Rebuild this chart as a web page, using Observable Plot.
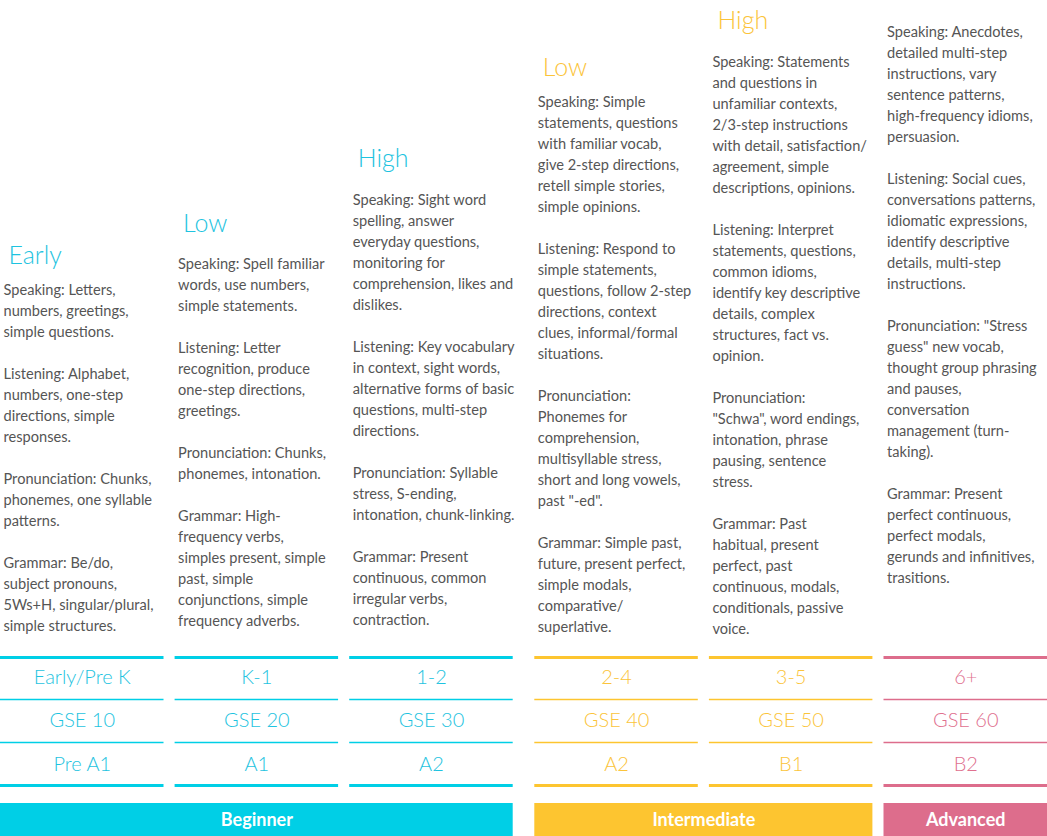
<!DOCTYPE html>
<html><head><meta charset="utf-8">
<script src="https://cdn.jsdelivr.net/npm/d3@7"></script>
<script src="https://cdn.jsdelivr.net/npm/@observablehq/plot@0.6"></script>
<style>body{margin:0;background:#fff}</style>
</head><body><div id="c"></div>
<script>
const levels = ["Early","Low","High","Low","High",""];
const groupOf = [0,0,0,1,1,2];
const groups = ["Beginner","Intermediate","Advanced"];
const grades = ["Early/Pre K","K-1","1-2","2-4","3-5","6+"];
const gse = ["GSE 10","GSE 20","GSE 30","GSE 40","GSE 50","GSE 60"];
const cefr = ["Pre A1","A1","A2","A2","B1","B2"];
const descriptions = [
"Speaking: Letters,\nnumbers, greetings,\nsimple questions.\n\nListening: Alphabet,\nnumbers, one-step\ndirections, simple\nresponses.\n\nPronunciation: Chunks,\nphonemes, one syllable\npatterns.\n\nGrammar: Be/do,\nsubject pronouns,\n5Ws+H, singular/plural,\nsimple structures.",
"Speaking: Spell familiar\nwords, use numbers,\nsimple statements.\n\nListening: Letter\nrecognition, produce\none-step directions,\ngreetings.\n\nPronunciation: Chunks,\nphonemes, intonation.\n\nGrammar: High-\nfrequency verbs,\nsimples present, simple\npast, simple\nconjunctions, simple\nfrequency adverbs.",
"Speaking: Sight word\nspelling, answer\neveryday questions,\nmonitoring for\ncomprehension, likes and\ndislikes.\n\nListening: Key vocabulary\nin context, sight words,\nalternative forms of basic\nquestions, multi-step\ndirections.\n\nPronunciation: Syllable\nstress, S-ending,\nintonation, chunk-linking.\n\nGrammar: Present\ncontinuous, common\nirregular verbs,\ncontraction.",
"Speaking: Simple\nstatements, questions\nwith familiar vocab,\ngive 2-step directions,\nretell simple stories,\nsimple opinions.\n\nListening: Respond to\nsimple statements,\nquestions, follow 2-step\ndirections, context\nclues, informal/formal\nsituations.\n\nPronunciation:\nPhonemes for\ncomprehension,\nmultisyllable stress,\nshort and long vowels,\npast \"-ed\".\n\nGrammar: Simple past,\nfuture, present perfect,\nsimple modals,\ncomparative/\nsuperlative.",
"Speaking: Statements\nand questions in\nunfamiliar contexts,\n2/3-step instructions\nwith detail, satisfaction/\nagreement, simple\ndescriptions, opinions.\n\nListening: Interpret\nstatements, questions,\ncommon idioms,\nidentify key descriptive\ndetails, complex\nstructures, fact vs.\nopinion.\n\nPronunciation:\n\"Schwa\", word endings,\nintonation, phrase\npausing, sentence\nstress.\n\nGrammar: Past\nhabitual, present\nperfect, past\ncontinuous, modals,\nconditionals, passive\nvoice.",
"Speaking: Anecdotes,\ndetailed multi-step\ninstructions, vary\nsentence patterns,\nhigh-frequency idioms,\npersuasion.\n\nListening: Social cues,\nconversations patterns,\nidiomatic expressions,\nidentify descriptive\ndetails, multi-step\ninstructions.\n\nPronunciation: \"Stress\nguess\" new vocab,\nthought group phrasing\nand pauses,\nconversation\nmanagement (turn-\ntaking).\n\nGrammar: Present\nperfect continuous,\nperfect modals,\ngerunds and infinitives,\ntrasitions."
];

// layout (not data)
const barColor = ["#00cfe6","#fdc530","#dd6d8c"];
const textColor = ["#1ec3e0","#fbc43a","#e0708f"];
const headColor = ["#1ec3e0","#1ec3e0","#1ec3e0","#fbc43a","#fbc43a",""];
const headY = [255,223,158,67,20,0];
const bodyY = [280,254,190,92,52,22];
const colW = 163.5;
const left = i => i*174.6 + (i>=3?10.5:0);
const cols = descriptions.map((d,i)=>({i, x1:left(i), x2:left(i)+colW, cx:left(i)+colW/2,
  g:groupOf[i], desc:d, level:levels[i], grade:grades[i], gse:gse[i], cefr:cefr[i]}));
const gbars = groups.map((g,k)=>{
  const m = cols.filter(c=>c.g===k);
  return {name:g, k, x1:m[0].x1, x2:m[m.length-1].x2};
});
const rules = [];
cols.forEach(c=>{
  [[657,3],[699,2],[742,2],[785,3]].forEach(([y,w])=>rules.push({...c,y,w}));
});
const font = "Lato, 'Open Sans', sans-serif";
const chart = Plot.plot({
  width:1047, height:836, margin:0,
  x:{domain:[0,1047], range:[0,1047], axis:null},
  y:{domain:[0,836], range:[0,836], axis:null},
  style:{fontFamily:font, background:"#fff"},
  marks:[
    Plot.text(cols.filter(c=>c.level), {x:c=>c.x1+8, y:c=>headY[c.i], text:"level", textAnchor:"start",
      fontSize:25, fontWeight:300, fill:c=>headColor[c.i]}),
    Plot.text(cols, {x:c=>c.x1+3, y:c=>bodyY[c.i], text:"desc", textAnchor:"start", lineAnchor:"top",
      fontSize:14.6, lineHeight:21/14.6, fill:"#555"}),
    ...rules.length ? [Plot.ruleY(rules.filter(r=>r.w===2), {y:"y", x1:"x1", x2:"x2", stroke:r=>barColor[r.g], strokeWidth:1.5}),
      Plot.ruleY(rules.filter(r=>r.w===3), {y:"y", x1:"x1", x2:"x2", stroke:r=>barColor[r.g], strokeWidth:3})] : [],
    Plot.text(cols, {x:"cx", y:677, text:"grade", fontSize:20, fontWeight:300, fill:c=>textColor[c.g]}),
    Plot.text(cols, {x:"cx", y:720, text:"gse", fontSize:20, fontWeight:300, fill:c=>textColor[c.g]}),
    Plot.text(cols, {x:"cx", y:764, text:"cefr", fontSize:20, fontWeight:300, fill:c=>textColor[c.g]}),
    Plot.rect(gbars, {x1:"x1", x2:"x2", y1:803, y2:836, fill:d=>barColor[d.k]}),
    Plot.text(gbars, {x:d=>(d.x1+d.x2)/2, y:819.5, text:"name", fill:"#fff", fontSize:18, fontWeight:"bold"})
  ]
});
document.getElementById("c").append(chart);
</script></body></html>
